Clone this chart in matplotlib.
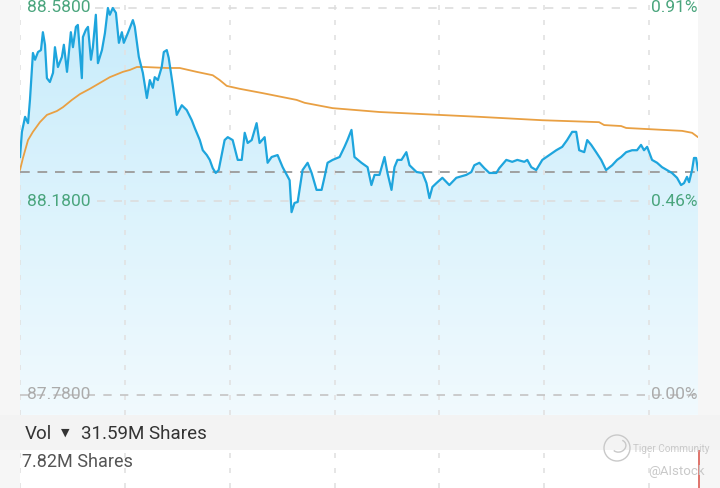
import numpy as np
import matplotlib
matplotlib.use("Agg")
import matplotlib.pyplot as plt
from matplotlib.colors import LinearSegmentedColormap
from matplotlib.patches import Circle, Rectangle, Arc

# ---------------- data ----------------
price_minutes = [0, 1.1, 2.9, 4.6, 5.7, 7.4, 8.6, 10.3, 12.0, 13.1, 14.3, 15.4, 17.1, 18.9, 20.0, 21.7,
                 24.0, 25.1, 26.9, 29.1, 30.3, 32.0, 33.1, 35.4, 36.0, 37.7, 38.9, 40.6, 41.7, 43.4, 44.6,
                 46.9, 48.6, 50.3, 51.4, 53.1, 54.9, 56.6, 58.3, 59.4, 61.7, 64.6, 65.7, 68.0, 70.3, 72.6,
                 74.3, 76.0, 77.1, 78.9, 81.1, 82.3, 84.0, 85.1, 87.4, 89.7, 92.6, 95.4, 98.3, 100.0, 102.9,
                 104.6, 106.9, 108.6, 110.3, 112.0, 113.7, 115.4, 117.1, 118.9, 121.7, 124.6, 126.9, 128.6,
                 130.3, 132.6, 135.4, 137.1, 140.0, 141.7, 144.0, 147.4, 150.3, 154.3, 155.4, 157.1, 158.9,
                 161.7, 164.6, 166.9, 169.7, 172.6, 174.3, 176.0, 178.9, 182.9, 185.7, 187.4, 189.7, 191.4,
                 195.4, 198.9, 201.1, 202.9, 205.7, 208.6, 210.3, 212.6, 214.3, 216.0, 218.3, 221.1, 222.9,
                 226.9, 230.3, 232.6, 234.3, 236.0, 238.3, 241.7, 245.7, 249.7, 255.4, 258.3, 260.0, 262.9,
                 265.7, 268.6, 272.6, 274.3, 278.3, 281.7, 284.6, 288.6, 290.3, 292.6, 295.4, 298.9, 302.9,
                 306.9, 310.3, 313.1, 316.0, 318.3, 320.0, 322.9, 324.6, 326.9, 329.7, 332.6, 335.4, 338.9,
                 341.7, 344.0, 346.9, 350.3, 353.1, 355.4, 357.1, 358.9, 361.7, 364.6, 367.4, 370.3, 373.1,
                 376.0, 378.3, 380.0, 381.7, 382.9, 384.6, 385.7, 386.9, 388.0]
price_values = [88.272, 88.324, 88.355, 88.342, 88.390, 88.487, 88.473, 88.489, 88.493, 88.530, 88.504,
                88.435, 88.427, 88.446, 88.499, 88.458, 88.479, 88.504, 88.448, 88.530, 88.499, 88.541,
                88.545, 88.435, 88.520, 88.535, 88.541, 88.473, 88.499, 88.566, 88.466, 88.493, 88.528,
                88.580, 88.566, 88.580, 88.570, 88.508, 88.530, 88.508, 88.528, 88.555, 88.541, 88.479,
                88.446, 88.394, 88.431, 88.415, 88.437, 88.431, 88.458, 88.489, 88.493, 88.477, 88.421,
                88.359, 88.379, 88.369, 88.348, 88.332, 88.307, 88.286, 88.276, 88.266, 88.249, 88.239,
                88.245, 88.276, 88.307, 88.313, 88.307, 88.266, 88.266, 88.322, 88.301, 88.307, 88.342,
                88.301, 88.313, 88.260, 88.272, 88.276, 88.251, 88.224, 88.158, 88.177, 88.179, 88.245,
                88.260, 88.239, 88.204, 88.204, 88.231, 88.260, 88.266, 88.272, 88.293, 88.307, 88.328,
                88.272, 88.260, 88.251, 88.214, 88.235, 88.235, 88.272, 88.239, 88.204, 88.251, 88.266,
                88.266, 88.282, 88.255, 88.241, 88.239, 88.218, 88.187, 88.210, 88.218, 88.229, 88.214,
                88.229, 88.235, 88.241, 88.255, 88.260, 88.249, 88.239, 88.239, 88.249, 88.266, 88.262,
                88.266, 88.262, 88.266, 88.251, 88.245, 88.266, 88.276, 88.286, 88.293, 88.307, 88.324,
                88.324, 88.286, 88.282, 88.307, 88.297, 88.282, 88.266, 88.245, 88.255, 88.266, 88.272,
                88.282, 88.286, 88.286, 88.297, 88.286, 88.293, 88.266, 88.260, 88.251, 88.245, 88.239,
                88.229, 88.214, 88.218, 88.231, 88.220, 88.245, 88.270, 88.270, 88.245]

avg_minutes = [0, 1.7, 4.6, 7.4, 11.4, 15.4, 21.1, 24.6, 29.7, 34.3, 40.0, 45.7, 51.4, 58.9, 62.9, 66.9,
               71.4, 84.0, 91.4, 101.1, 110.3, 114.3, 118.3, 125.7, 138.9, 158.3, 162.9, 178.9, 205.7,
               240.0, 262.9, 298.9, 331.4, 334.3, 344.0, 346.9, 378.9, 384.6, 388.0]
avg_values = [88.245, 88.270, 88.307, 88.324, 88.344, 88.359, 88.367, 88.375, 88.390, 88.402, 88.413,
              88.425, 88.437, 88.448, 88.452, 88.458, 88.458, 88.456, 88.456, 88.448, 88.441, 88.431,
              88.419, 88.413, 88.404, 88.390, 88.384, 88.373, 88.365, 88.359, 88.355, 88.348, 88.344,
              88.338, 88.336, 88.332, 88.326, 88.322, 88.313]

ref_price = 88.241
left_labels = ["88.5800", "88.1800", "87.7800"]
left_levels = [88.58, 88.18, 87.78]
right_labels = ["0.91%", "0.46%", "0.00%"]
hour_marks = [0, 60, 120, 180, 240, 300, 360]

vol_minutes = [388.5]
vol_values = [7.82]
vol_total_text = "31.59M Shares"
vol_last_text = "7.82M Shares"

# ---------------- layout ----------------
W, H = 720, 488
fig = plt.figure(figsize=(W / 100, H / 100), dpi=100)
fig.patch.set_facecolor("#f6f6f6")

x_end = 388.0
px_per_unit = 387 / 0.8  # pixels per price unit
ytop = 88.58 + 8 / px_per_unit
ybot = 87.78 - 20 / px_per_unit

ax = fig.add_axes([20 / W, 1 - 415 / H, 678 / W, 415 / H])
ax.set_facecolor("white")
ax.set_xlim(0, x_end)
ax.set_ylim(ybot, ytop)
for s in ax.spines.values():
    s.set_visible(False)
ax.set_xticks([])
ax.set_yticks([])

# gradient fill under price line
poly = ax.fill_between(price_minutes, price_values, ybot, facecolor="none", edgecolor="none")
cmap = LinearSegmentedColormap.from_list("g", ["#f1fafe", "#c8ecfb"])
grad = np.linspace(0, 1, 256).reshape(-1, 1)
img = ax.imshow(grad, extent=[0, x_end, ybot, 88.58], aspect="auto", cmap=cmap,
                origin="lower", zorder=1, interpolation="bilinear")
img.set_clip_path(poly.get_paths()[0], transform=ax.transData)

# grid lines
vgrid = dict(color="#e2e2e2", lw=1.2, ls=(0, (3, 6)))
for m in hour_marks:
    ax.axvline(m, zorder=2, **vgrid)
x0f = lambda px: (px - 20) / 678
ax.axhline(88.58, xmin=x0f(95), xmax=x0f(645), color="#dddddd", lw=1.2, ls=(0, (5, 5)), zorder=2)
ax.axhline(88.18, xmin=x0f(97), xmax=x0f(645), color="#dddddd", lw=1.2, ls=(0, (5, 5)), zorder=2)
ax.axhline(87.78, color="#c4c4c4", lw=1.2, ls=(0, (5, 5)), zorder=2)
ax.axhline(ref_price, color="#a0a0a0", lw=1.4, ls=(0, (5, 4)), zorder=2)

# lines
ax.plot(avg_minutes, avg_values, color="#e9a043", lw=1.3, zorder=4, solid_capstyle="round")
ax.plot(price_minutes, price_values, color="#1ea5dd", lw=1.6, zorder=5, solid_joinstyle="round")

# labels
font = ["Roboto", "DejaVu Sans"]
green = "#4aa57d"
colors = [green, green, "#ababab"]
for lab, lev, c in zip(left_labels, left_levels, colors):
    ax.text(x0f(27), lev, lab, transform=ax.get_yaxis_transform(), ha="left", va="center",
            fontsize=12.5, color=c, family=font, zorder=3)
for lab, lev, c in zip(right_labels, left_levels, colors):
    ax.text(x0f(697), lev, lab, transform=ax.get_yaxis_transform(), ha="right", va="center",
            fontsize=12.5, color=c, family=font, zorder=3)

# grey band with volume summary
fig.patches.append(Rectangle((0, 1 - 450 / H), 1, 35 / H, transform=fig.transFigure,
                             facecolor="#f3f3f3", edgecolor="none", zorder=0))
fig.text(25 / W, 1 - 434 / H, "Vol", ha="left", va="center", fontsize=13.5,
         color="#333333", family=font)
fig.text(61 / W, 1 - 433 / H, "\u25bc", ha="left", va="center", fontsize=8,
         color="#333333", family=["DejaVu Sans"])
fig.text(81 / W, 1 - 434 / H, vol_total_text, ha="left", va="center", fontsize=13.5,
         color="#333333", family=font)

# volume axes
vax = fig.add_axes([20 / W, 0, 678 / W, 38 / H])
vax.set_facecolor("white")
vax.set_xlim(0, x_end)
vax.set_ylim(0, 7.9)
for s in vax.spines.values():
    s.set_visible(False)
vax.set_xticks([])
vax.set_yticks([])
for m in hour_marks:
    vax.axvline(m, zorder=1, **vgrid)
vax.bar(vol_minutes, vol_values, width=0.9, color="#e0776f", clip_on=False, zorder=3)
fig.text(22 / W, 1 - 462 / H, vol_last_text, ha="left", va="center", fontsize=13,
         color="#555555", family=font)

# watermark
wm = "#c9c9c9"
fig.patches.append(Circle((617, H - 448), 13, transform=None, facecolor="none",
                          edgecolor=wm, lw=1.0, zorder=5))
fig.patches.append(Arc((619, H - 446), 14, 12, angle=20, theta1=200, theta2=40, transform=None,
                       edgecolor=wm, lw=1.0, zorder=5))
fig.text(633 / W, 1 - 449 / H, "Tiger Community", ha="left", va="center", fontsize=7.2,
         color=wm, family=font)
fig.text(705 / W, 1 - 471 / H, "@AIstock", ha="right", va="center", fontsize=9.5,
         color=wm, family=font)

fig.savefig("out.png", dpi=100, facecolor=fig.get_facecolor())
